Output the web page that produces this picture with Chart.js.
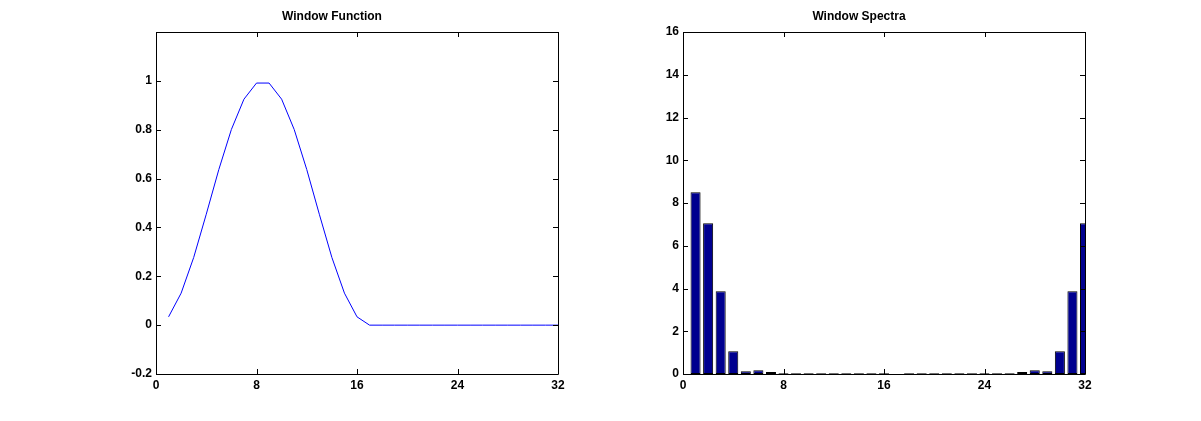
<!DOCTYPE html>
<html>
<head>
<meta charset="utf-8">
<script src="https://cdn.jsdelivr.net/npm/chart.js@4.4.1/dist/chart.umd.min.js"></script>
<style>
    html, body { margin: 0; padding: 0; background: #fff; }
    #wrap { position: relative; width: 1201px; height: 421px; overflow: hidden; }
    canvas { position: absolute; top: 0; }
</style>
</head>
<body>
<div id="wrap">
    <canvas id="windowChart" width="600" height="421" style="left:0"></canvas>
    <canvas id="spectraChart" width="601" height="421" style="left:600px"></canvas>
</div>
<script>
// sample index 1..32
const samples = [1, 2, 3, 4, 5, 6, 7, 8, 9, 10, 11, 12, 13, 14, 15, 16,
                 17, 18, 19, 20, 21, 22, 23, 24, 25, 26, 27, 28, 29, 30, 31, 32];

// window function
const windowValues = [0.034, 0.131, 0.277, 0.454, 0.637, 0.801, 0.925, 0.991,
                      0.991, 0.925, 0.801, 0.637, 0.454, 0.277, 0.131, 0.034,
                      0, 0, 0, 0, 0, 0, 0, 0, 0, 0, 0, 0, 0, 0, 0, 0];

// spectrum magnitude
const spectraValues = [8.5, 7.05, 3.87, 1.07, 0.13, 0.18, 0.09, 0.04,
                       0.03, 0.03, 0.03, 0.03, 0.03, 0.03, 0.03, 0.03,
                       0, 0.03, 0.03, 0.03, 0.03, 0.03, 0.03, 0.03,
                       0.03, 0.04, 0.09, 0.18, 0.13, 1.07, 3.87, 7.05];

const xTicks = [0, 8, 16, 24, 32];
const windowYTicks = [-0.2, 0, 0.2, 0.4, 0.6, 0.8, 1];
const spectraYTicks = [0, 2, 4, 6, 8, 10, 12, 14, 16];

Chart.defaults.color = '#000';
Chart.defaults.font.family = '"Liberation Sans", Arial, sans-serif';

const tickFont = { size: 12, weight: 'bold' };
const titleFont = { size: 12, weight: 'bold', lineHeight: '14px' };

// MATLAB style box with inward ticks
const boxPlugin = {
    id: 'matlabBox',
    afterDatasetsDraw(chart) {
        const { ctx, chartArea: a, scales } = chart;
        const len = 5;
        ctx.save();
        ctx.strokeStyle = '#000';
        ctx.lineWidth = 1;
        ctx.beginPath();
        ctx.rect(a.left + 0.5, a.top + 0.5, a.right - a.left, a.bottom - a.top);
        scales.x.ticks.forEach(t => {
            const px = Math.round(scales.x.getPixelForValue(t.value)) + 0.5;
            ctx.moveTo(px, a.bottom);
            ctx.lineTo(px, a.bottom - len);
            ctx.moveTo(px, a.top);
            ctx.lineTo(px, a.top + len);
        });
        scales.y.ticks.forEach(t => {
            const py = Math.round(scales.y.getPixelForValue(t.value)) + 0.5;
            ctx.moveTo(a.left, py);
            ctx.lineTo(a.left + len, py);
            ctx.moveTo(a.right, py);
            ctx.lineTo(a.right - len, py);
        });
        ctx.stroke();
        ctx.restore();
    }
};

const fmt = v => String(Math.round(v * 10) / 10);

function axes(yMin, yMax, yTicks) {
    return {
        x: {
            type: 'linear',
            min: 0,
            max: 32,
            offset: false,
            grid: { display: false, drawTicks: false, offset: false },
            border: { display: false },
            ticks: { font: tickFont, padding: 4, autoSkip: false, callback: fmt },
            afterBuildTicks: s => { s.ticks = xTicks.map(v => ({ value: v })); },
            afterFit: s => { s.height = 27; }
        },
        y: {
            type: 'linear',
            min: yMin,
            max: yMax,
            grid: { display: false, drawTicks: false },
            border: { display: false },
            ticks: { font: tickFont, padding: 4, autoSkip: false, callback: fmt },
            afterBuildTicks: s => { s.ticks = yTicks.map(v => ({ value: v })); },
            afterFit: s => { s.width = 50; }
        }
    };
}

function titleOpts(text) {
    return {
        display: true,
        text: text,
        color: '#000',
        font: titleFont,
        padding: { top: 10, bottom: 8 }
    };
}

new Chart(document.getElementById('windowChart'), {
    type: 'line',
    data: {
        datasets: [{
            data: samples.map((x, i) => ({ x: x, y: windowValues[i] })),
            borderColor: '#0000ff',
            borderWidth: 1,
            pointRadius: 0,
            tension: 0,
            fill: false
        }]
    },
    options: {
        responsive: false,
        animation: false,
        layout: { padding: { left: 106, right: 42, top: 0, bottom: 20 } },
        plugins: {
            legend: { display: false },
            tooltip: { enabled: false },
            title: titleOpts('Window Function')
        },
        scales: axes(-0.2, 1.2, windowYTicks)
    },
    plugins: [boxPlugin]
});

new Chart(document.getElementById('spectraChart'), {
    type: 'bar',
    data: {
        datasets: [{
            data: samples.map((x, i) => ({ x: x, y: spectraValues[i] })),
            backgroundColor: '#00008f',
            borderColor: '#000',
            borderWidth: 1,
            borderSkipped: false,
            barPercentage: 0.8,
            categoryPercentage: 1
        }]
    },
    options: {
        responsive: false,
        animation: false,
        layout: { padding: { left: 33, right: 116, top: 0, bottom: 20 } },
        plugins: {
            legend: { display: false },
            tooltip: { enabled: false },
            title: titleOpts('Window Spectra')
        },
        scales: axes(0, 16, spectraYTicks)
    },
    plugins: [boxPlugin]
});
</script>
</body>
</html>
